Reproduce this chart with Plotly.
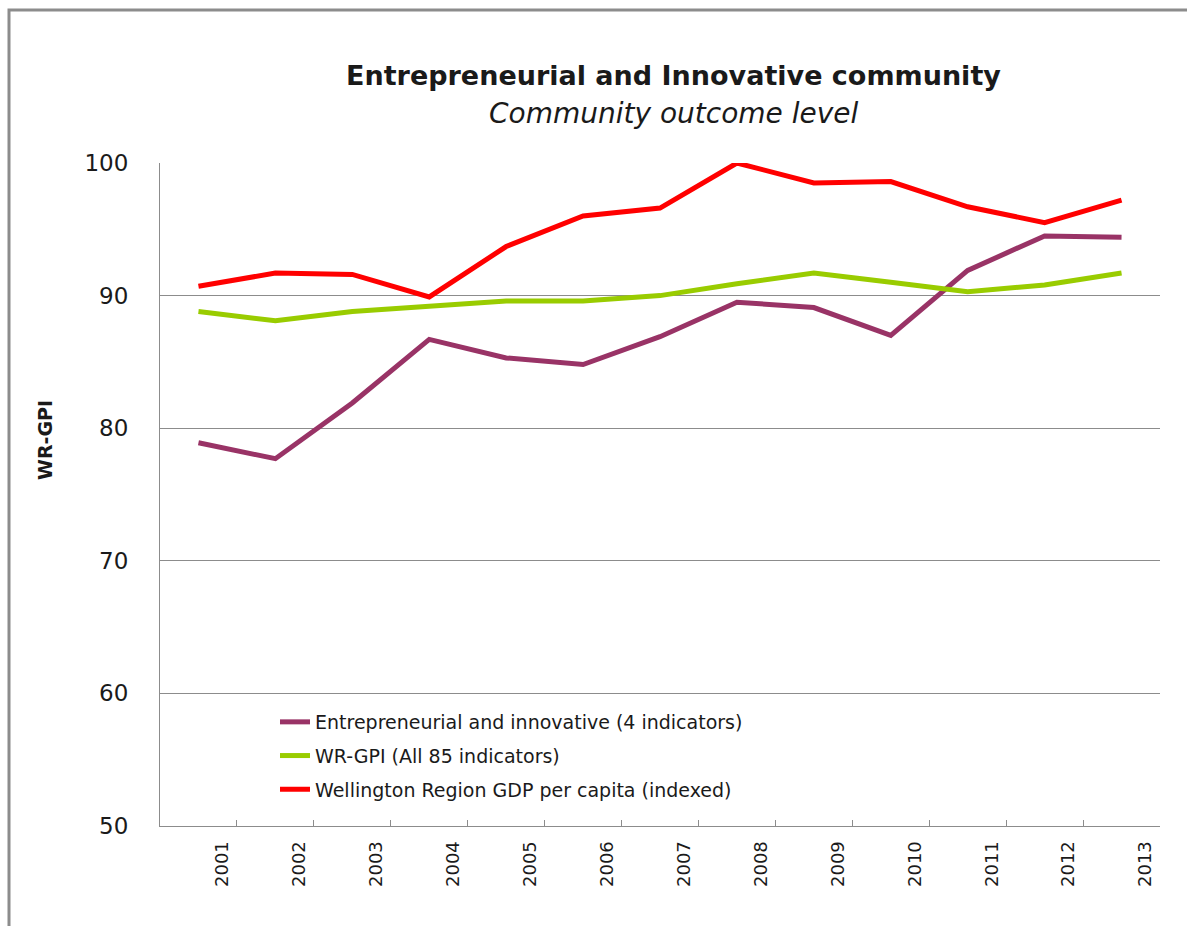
import plotly.graph_objects as go

years = ["2001", "2002", "2003", "2004", "2005", "2006", "2007",
         "2008", "2009", "2010", "2011", "2012", "2013"]
entrepreneurial = [78.9, 77.7, 81.9, 86.7, 85.3, 84.8, 86.9,
                   89.5, 89.1, 87.0, 91.9, 94.5, 94.4]
wr_gpi = [88.8, 88.1, 88.8, 89.2, 89.6, 89.6, 90.0,
          90.9, 91.7, 91.0, 90.3, 90.8, 91.7]
gdp = [90.7, 91.7, 91.6, 89.9, 93.7, 96.0, 96.6,
       100.0, 98.5, 98.6, 96.7, 95.5, 97.2]

names = ["Entrepreneurial and innovative (4 indicators)",
         "WR-GPI (All 85 indicators)",
         "Wellington Region GDP per capita (indexed)"]
colors = ["#993366", "#99CC00", "#FF0000"]
series = [entrepreneurial, wr_gpi, gdp]

W, H = 1187, 926
ML, MR, MT, MB = 160, 27, 163, 100
PW, PH = W - ML - MR, H - MT - MB

def px_x(x):
    return (x - ML) / PW

def px_y(y):
    return (H - MB - y) / PH

fig = go.Figure()
for i, (nm, col, vals) in enumerate(zip(names, colors, series)):
    fig.add_trace(go.Scatter(
        x=years, y=vals, name=nm, mode="lines",
        line=dict(color=col, width=5),
        legendgroup=str(i),
    ))

font_main = "DejaVu Sans"
fig.update_layout(
    width=W, height=H,
    margin=dict(l=ML, r=MR, t=MT, b=MB, autoexpand=False),
    paper_bgcolor="white", plot_bgcolor="white",
    font=dict(family=font_main, color="#1a1a1a"),
    showlegend=True,
    legend=dict(
        x=px_x(275), y=px_y(703), xanchor="left", yanchor="top",
        bgcolor="rgba(0,0,0,0)", font=dict(size=19, family=font_main, color="#1a1a1a"),
        traceorder="grouped", tracegroupgap=6,
    ),
    xaxis=dict(
        type="category", tickson="boundaries", range=[-0.5, 12.5],
        automargin=False,
        ticks="inside", ticklen=6, tickcolor="#8c8c8c",
        showline=True, linecolor="#8c8c8c", linewidth=1,
        showgrid=False, tickangle=-90,
        tickfont=dict(size=18, family=font_main, color="#1a1a1a"),
        ticklabelshift=24, ticklabelstandoff=7,
    ),
    yaxis=dict(
        range=[50, 100], dtick=10, tick0=50, automargin=False,
        showgrid=True, gridcolor="#8c8c8c", gridwidth=1,
        showline=True, linecolor="#8c8c8c", linewidth=1,
        ticks="", zeroline=False,
        tickfont=dict(size=23, family=font_main, color="#1a1a1a"),
        ticklabelstandoff=26,
    ),
    annotations=[
        dict(text="<b>Entrepreneurial and Innovative community</b>",
             xref="paper", yref="paper", x=px_x(673), y=px_y(75),
             xanchor="center", yanchor="middle", showarrow=False,
             font=dict(size=27, family=font_main, color="#1a1a1a")),
        dict(text="<i>Community outcome level</i>",
             xref="paper", yref="paper", x=px_x(674), y=px_y(113),
             xanchor="center", yanchor="middle", showarrow=False,
             font=dict(size=28, family=font_main, color="#1a1a1a")),
        dict(text="<b>WR-GPI</b>", textangle=-90,
             xref="paper", yref="paper", x=px_x(45), y=px_y(440),
             xanchor="center", yanchor="middle", showarrow=False,
             font=dict(size=19, family=font_main, color="#1a1a1a")),
    ],
    shapes=[
        dict(type="rect", xref="paper", yref="paper", layer="below",
             x0=px_x(9), x1=px_x(W + 20), y0=px_y(H + 20), y1=px_y(10),
             line=dict(color="#8c8c8c", width=3), fillcolor="rgba(0,0,0,0)"),
    ],
)

fig.write_html("out.html")
